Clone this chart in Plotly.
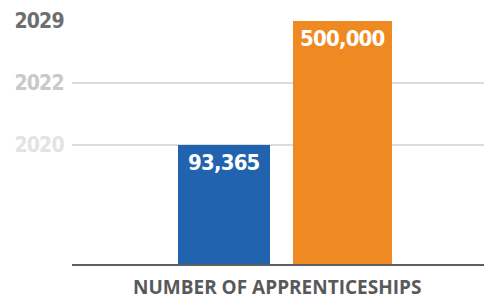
import plotly.graph_objects as go

# Data
categories = ["Current", "Target"]
bar_years = ["2020", "2029"]           # year level each bar reaches
bar_labels = ["93,365", "500,000"]     # number of apprenticeships
tick_years = ["2020", "2022", "2029"]
tick_colors = ["#e3e3e3", "#c9c9c9", "#6d6e71"]
bar_colors = ["#2163ae", "#ef8a23"]
axis_title = "NUMBER OF APPRENTICESHIPS"

# level of each year on the axis (2020 -> 2, 2022 -> 3, 2029 -> 4)
level = {y: i + 2 for i, y in enumerate(tick_years)}
bar_levels = [level[y] for y in bar_years]

COND = "font-stretch:condensed;letter-spacing:-0.8px"

fig = go.Figure()
fig.add_trace(go.Bar(
    x=categories, y=bar_levels,
    marker=dict(color=bar_colors, line=dict(width=0)),
    width=[0.776, 0.835],
    hoverinfo="skip",
))

for c, lv, t in zip(categories, bar_levels, bar_labels):
    fig.add_annotation(
        x=c, y=lv, text=f"<span style='{COND}'>{t}</span>", showarrow=False,
        yanchor="top", yshift=-3,
        font=dict(family="DejaVu Sans", size=22, color="white", weight="bold"),
    )

fig.add_annotation(
    xref="paper", yref="paper", x=0.488, y=0, yanchor="top", yshift=-9,
    text=f"<b>{axis_title}</b>", showarrow=False, borderpad=0,
    font=dict(family="Open Sans, sans-serif", size=19, color="#58595b"),
)

ticktext = [f"<span style='color:{col};{COND}'><b>{y}</b></span>"
            for y, col in zip(tick_years, tick_colors)]

# page body has an 8px margin: layout is shifted by -8px to compensate
fig.update_layout(
    width=492, height=302,
    margin=dict(l=64, r=8, t=12, b=46),
    paper_bgcolor="white", plot_bgcolor="white",
    showlegend=False,
    bargap=0,
    xaxis=dict(
        range=[-1.283, 2.262],
        automargin=False,
        showticklabels=False, ticks="",
        showgrid=False, zeroline=False,
        showline=True, linecolor="#5d5f62", linewidth=2,
        fixedrange=True,
    ),
    yaxis=dict(
        range=[0.08, 4.016],
        automargin=False,
        tickvals=[level[y] for y in tick_years],
        ticktext=ticktext,
        tickfont=dict(family="DejaVu Sans", size=21, color="#6d6e71"),
        ticks="outside", ticklen=3, tickcolor="rgba(0,0,0,0)",
        showgrid=True, gridcolor="#dcdcdc", gridwidth=1.5,
        zeroline=False, showline=False,
        fixedrange=True,
    ),
)

fig.write_html("out.html", config={"displayModeBar": False})
